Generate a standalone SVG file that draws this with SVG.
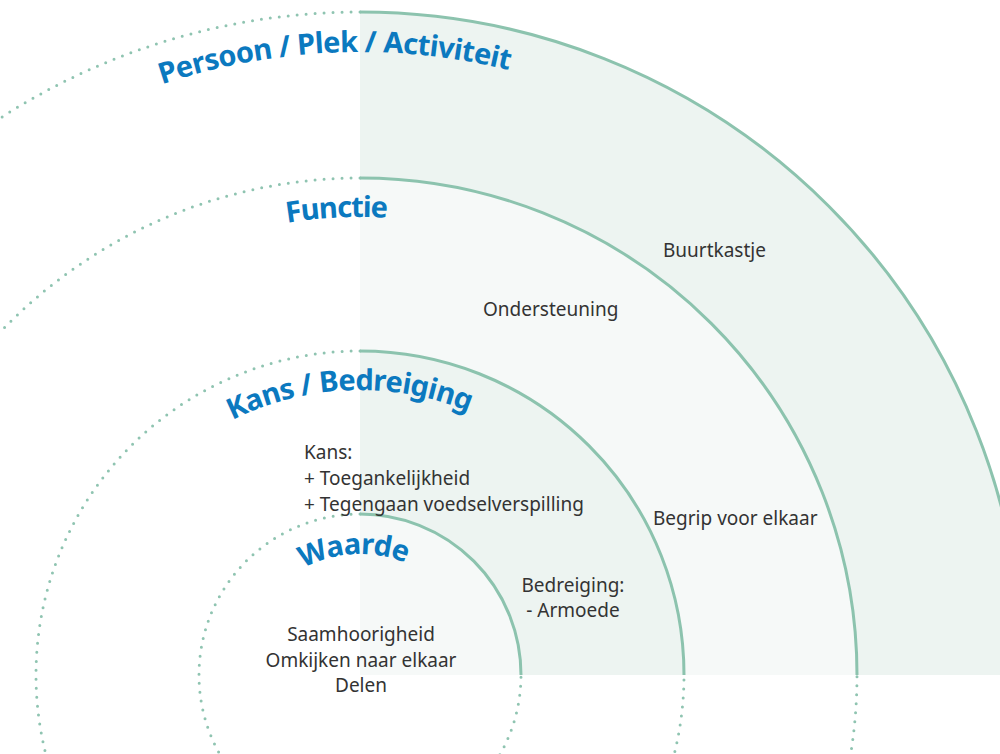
<svg xmlns="http://www.w3.org/2000/svg" xmlns:xlink="http://www.w3.org/1999/xlink" width="1000" height="754" viewBox="0 0 1000 754">
  <style>
    .fillA { fill: #edf4f1; }
    .fillB { fill: #f6f9f8; }
    .solid { fill: none; stroke: #8cc3ae; stroke-width: 3; }
    .dots { fill: none; stroke: #8fc4b1; stroke-width: 3; stroke-linecap: round; stroke-dasharray: 0 9; }
    .title { font-family: "Noto Sans", "Open Sans", sans-serif; font-weight: 700; font-size: 29px; fill: #0b79bf; }
    .body { font-family: "Noto Sans", "Open Sans", sans-serif; font-size: 19px; fill: #333333; }
    .mid { text-anchor: middle; }
  </style>
  <defs>
    <path id="arc623" d="M -263 675 A 623 623 0 0 1 983 675"/>
    <path id="arc458" d="M -98 675 A 458 458 0 0 1 818 675"/>
    <path id="arc285" d="M 75 675 A 285 285 0 0 1 645 675"/>
    <path id="arc121" d="M 239 675 A 121 121 0 0 1 481 675"/>
  </defs>
  <rect width="1000" height="754" fill="#ffffff"/>

  <g id="fills">
    <path class="fillA" d="M 360 675 L 360 12 A 663 663 0 0 1 1023 675 Z"/>
    <path class="fillB" d="M 360 675 L 360 178 A 497 497 0 0 1 857 675 Z"/>
    <path class="fillA" d="M 360 675 L 360 351 A 324 324 0 0 1 684 675 Z"/>
    <path class="fillB" d="M 360 675 L 360 514 A 161 161 0 0 1 521 675 Z"/>
  </g>

  <g id="connectors">
    <path class="dots" d="M 360 12 A 663 663 0 1 0 1023 675"/>
    <path class="dots" d="M 360 178 A 497 497 0 1 0 857 675"/>
    <path class="dots" d="M 360 351 A 324 324 0 1 0 684 675"/>
    <path class="dots" d="M 360 514 A 161 161 0 1 0 521 675"/>
    <path class="solid" d="M 360 12 A 663 663 0 0 1 1023 675"/>
    <path class="solid" d="M 360 178 A 497 497 0 0 1 857 675"/>
    <path class="solid" d="M 360 351 A 324 324 0 0 1 684 675"/>
    <path class="solid" d="M 360 514 A 161 161 0 0 1 521 675"/>
  </g>

  <g id="ring-persoon">
    <text class="title"><textPath xlink:href="#arc623" href="#arc623" startOffset="777" textLength="352" lengthAdjust="spacing">Persoon / Plek / Activiteit</textPath></text>
    <text class="body" x="663" y="257">Buurtkastje</text>
  </g>

  <g id="ring-functie">
    <text class="title"><textPath xlink:href="#arc458" href="#arc458" startOffset="646" textLength="101" lengthAdjust="spacing">Functie</textPath></text>
    <text class="body" x="483" y="316">Ondersteuning</text>
    <text class="body" x="653" y="525">Begrip voor elkaar</text>
  </g>

  <g id="ring-kans">
    <text class="title"><textPath xlink:href="#arc285" href="#arc285" startOffset="315" textLength="244" lengthAdjust="spacing">Kans / Bedreiging</textPath></text>
    <text class="body" x="304" y="459">Kans:</text>
    <text class="body" x="304" y="485">+ Toegankelijkheid</text>
    <text class="body" x="304" y="511">+ Tegengaan voedselverspilling</text>
    <text class="body mid" x="573" y="592">Bedreiging:</text>
    <text class="body mid" x="573" y="617">- Armoede</text>
  </g>

  <g id="ring-waarde">
    <text class="title"><textPath xlink:href="#arc121" href="#arc121" startOffset="131" textLength="106" lengthAdjust="spacing">Waarde</textPath></text>
    <text class="body mid" x="361" y="641">Saamhoorigheid</text>
    <text class="body mid" x="361" y="667">Omkijken naar elkaar</text>
    <text class="body mid" x="361" y="692">Delen</text>
  </g>
</svg>
